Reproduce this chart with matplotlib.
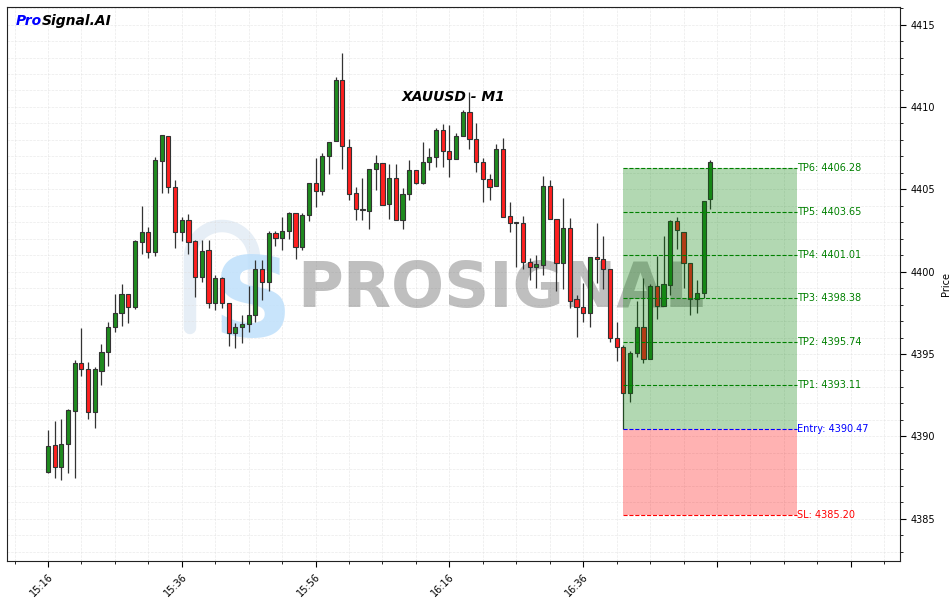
import matplotlib
matplotlib.use("Agg")
import matplotlib.pyplot as plt
from matplotlib.ticker import MultipleLocator, FixedLocator, FixedFormatter
import numpy as np

# ---- data (XAUUSD M1, starting 15:16) ----
opens = [4387.86, 4389.46, 4388.16, 4389.52, 4391.56, 4394.44, 4394.07, 4391.50, 4393.99, 4395.14,
         4396.62, 4397.47, 4398.63, 4397.87, 4401.82, 4402.39, 4401.18, 4406.72, 4408.24, 4405.12,
         4402.43, 4403.14, 4401.86, 4399.66, 4401.32, 4398.08, 4399.60, 4398.08, 4396.26, 4396.62,
         4396.81, 4397.37, 4400.15, 4399.39, 4402.33, 4402.06, 4402.47, 4403.55, 4401.48, 4403.41,
         4405.37, 4404.90, 4407.02, 4407.95, 4411.64, 4407.55, 4404.76, 4403.80, 4403.70, 4406.22,
         4406.58, 4404.09, 4405.67, 4403.14, 4404.70, 4406.17, 4405.40, 4406.64, 4406.95, 4408.60,
         4407.33, 4406.82, 4408.24, 4409.68, 4408.06, 4406.64, 4405.61, 4405.22, 4407.45, 4403.38,
         4402.94, 4402.98, 4400.57, 4400.27, 4400.41, 4405.20, 4403.18, 4400.51, 4402.64, 4398.32,
         4397.87, 4397.47, 4400.87, 4400.75, 4400.15, 4395.96, 4395.41, 4392.62, 4395.05, 4396.66,
         4394.68, 4399.13, 4397.92, 4399.19, 4403.08, 4402.43, 4400.51, 4398.34, 4398.69, 4404.41]
closes = [4389.42, 4388.16, 4389.52, 4391.60, 4394.44, 4394.07, 4391.50, 4394.07, 4395.14, 4396.62,
          4397.47, 4398.63, 4397.87, 4401.88, 4402.39, 4401.18, 4406.78, 4408.30, 4405.12, 4402.43,
          4403.14, 4401.82, 4399.66, 4401.26, 4398.08, 4399.60, 4398.08, 4396.26, 4396.62, 4396.81,
          4397.37, 4400.15, 4399.39, 4402.33, 4402.06, 4402.47, 4403.55, 4401.48, 4403.44, 4405.37,
          4404.90, 4407.02, 4407.89, 4411.64, 4407.63, 4404.70, 4403.79, 4403.76, 4406.22, 4406.58,
          4404.05, 4405.67, 4403.14, 4404.70, 4406.17, 4405.40, 4406.64, 4406.95, 4408.60, 4407.33,
          4406.82, 4408.24, 4409.68, 4408.06, 4406.64, 4405.61, 4405.16, 4407.45, 4403.34, 4402.94,
          4403.04, 4400.57, 4400.27, 4400.45, 4405.20, 4403.20, 4400.51, 4402.64, 4398.24, 4397.87,
          4397.47, 4400.87, 4400.75, 4400.15, 4395.96, 4395.41, 4392.62, 4395.05, 4396.66, 4394.68,
          4399.13, 4397.92, 4399.23, 4403.08, 4402.53, 4400.51, 4398.34, 4398.69, 4404.31, 4406.68]
highs = [4390.39, 4390.95, 4391.04, 4391.64, 4394.64, 4396.56, 4394.54, 4394.23, 4395.59, 4396.96,
         4398.63, 4399.25, 4398.63, 4401.92, 4403.99, 4402.73, 4406.98, 4408.30, 4408.24, 4405.57,
         4403.30, 4403.50, 4401.92, 4401.92, 4401.92, 4399.80, 4399.70, 4398.08, 4396.87, 4397.37,
         4399.13, 4400.71, 4400.71, 4402.49, 4402.47, 4403.30, 4403.61, 4403.55, 4403.55, 4405.37,
         4406.92, 4407.19, 4407.89, 4411.84, 4413.26, 4408.06, 4405.16, 4405.67, 4406.22, 4407.09,
         4406.58, 4406.52, 4406.52, 4405.06, 4406.78, 4406.17, 4407.89, 4407.49, 4408.71, 4408.95,
         4408.91, 4408.40, 4409.82, 4410.90, 4409.01, 4406.90, 4405.93, 4407.74, 4408.14, 4404.25,
         4403.04, 4403.40, 4400.81, 4401.01, 4405.81, 4405.57, 4403.18, 4404.49, 4403.28, 4398.57,
         4399.30, 4400.87, 4402.94, 4402.17, 4400.15, 4396.96, 4395.55, 4395.19, 4398.22, 4399.64,
         4399.23, 4400.95, 4402.17, 4403.14, 4403.34, 4402.43, 4400.51, 4399.50, 4404.31, 4406.78]
lows = [4387.76, 4387.46, 4387.35, 4387.80, 4387.46, 4393.67, 4391.04, 4390.49, 4393.12, 4394.27,
        4396.36, 4396.70, 4396.90, 4397.72, 4401.07, 4400.81, 4400.95, 4404.80, 4404.80, 4401.42,
        4401.86, 4401.06, 4398.48, 4399.39, 4397.81, 4397.67, 4397.78, 4395.49, 4395.35, 4395.69,
        4396.36, 4396.96, 4398.28, 4398.83, 4401.56, 4401.32, 4401.97, 4400.75, 4401.32, 4403.08,
        4403.95, 4404.66, 4405.91, 4407.95, 4406.24, 4404.35, 4403.14, 4403.14, 4402.57, 4404.96,
        4404.05, 4403.20, 4403.14, 4402.59, 4404.35, 4405.31, 4405.31, 4406.17, 4406.38, 4406.38,
        4405.77, 4406.82, 4408.24, 4407.45, 4406.03, 4404.21, 4404.33, 4405.22, 4403.34, 4402.39,
        4400.30, 4400.16, 4399.50, 4399.00, 4399.80, 4403.20, 4398.83, 4398.95, 4397.78, 4396.05,
        4396.96, 4396.66, 4399.30, 4398.93, 4395.71, 4394.58, 4390.47, 4392.07, 4394.84, 4394.44,
        4394.68, 4397.13, 4397.92, 4398.59, 4401.36, 4398.99, 4397.37, 4397.47, 4398.38, 4403.81]

tick_labels = ["15:16", "15:36", "15:56", "16:16", "16:36"]
symbol_title = "XAUUSD - M1"

entry_price = 4390.47
sl_price = 4385.20
tp_prices = [4393.11, 4395.74, 4398.38, 4401.01, 4403.65, 4406.28]
zone_start = 86
zone_end = 112

# ---- figure ----
fig = plt.figure(figsize=(9.53, 6.03), dpi=100)
ax = fig.add_axes([0.0073, 0.0697, 0.9371, 0.9187])

n = len(opens)
x = np.arange(n)
o = np.array(opens); c = np.array(closes); h = np.array(highs); l = np.array(lows)
up = c >= o
green = "#1f8b1f"
red = "#ff1f1f"
colors = np.where(up, green, red)

ax.vlines(x, l, h, color="#333333", linewidth=0.9, zorder=2)
bottoms = np.minimum(o, c)
heights = np.maximum(np.abs(c - o), 0.04)
ax.bar(x, heights, bottom=bottoms, width=0.62, color=colors,
       edgecolor="#333333", linewidth=0.8, zorder=3)

# zones
ax.fill_between([zone_start, zone_end], entry_price, tp_prices[-1],
                color="green", alpha=0.3, linewidth=0, zorder=4)
ax.fill_between([zone_start, zone_end], sl_price, entry_price,
                color="red", alpha=0.3, linewidth=0, zorder=4)

for i, tp in enumerate(tp_prices):
    ax.hlines(tp, zone_start, zone_end, colors="green", linestyles="--", linewidth=0.8, zorder=5)
    ax.text(zone_end, tp, f"TP{i+1}: {tp:.2f}", color="green", fontsize=7,
            va="center", ha="left", zorder=6)
ax.hlines(entry_price, zone_start, zone_end, colors="blue", linestyles="--", linewidth=0.8, zorder=5)
ax.text(zone_end, entry_price, f"Entry: {entry_price:.2f}", color="blue", fontsize=7,
        va="center", ha="left", zorder=6)
ax.hlines(sl_price, zone_start, zone_end, colors="red", linestyles="--", linewidth=0.8, zorder=5)
ax.text(zone_end, sl_price, f"SL: {sl_price:.2f}", color="red", fontsize=7,
        va="center", ha="left", zorder=6)

# watermark
ax.text(0.325, 0.49, "PROSIGNAL", transform=ax.transAxes, fontsize=45, fontweight="bold",
        color="gray", alpha=0.5, ha="left", va="center", zorder=1)
# faint logo arch (pixel geometry -> axes fraction)
def px2ax(px, py):
    return (np.asarray(px) - 7) / 893.0, (561 - np.asarray(py)) / 554.0
theta = np.linspace(np.pi, 0, 40)
arch_px = np.concatenate([[190, 190], 222 + 32 * np.cos(theta), [254]])
arch_py = np.concatenate([[328, 258], 258 - 32 * np.sin(theta), [285]])
axx, axy = px2ax(arch_px, arch_py)
ax.plot(axx, axy, transform=ax.transAxes, color="#e6eef6", linewidth=9,
        solid_capstyle="round", zorder=0.5)
ax.text(0.2755, 0.462, "S", transform=ax.transAxes, fontsize=80, fontweight="bold",
        color="#bfe0fb", alpha=0.85, ha="center", va="center", zorder=0.6)

# brand & title
ax.text(0.01, 0.975, "Pro", transform=ax.transAxes, fontsize=10, fontweight="bold",
        fontstyle="italic", color="blue", ha="left", va="center", zorder=7)
ax.text(0.0385, 0.975, "Signal.AI", transform=ax.transAxes, fontsize=10, fontweight="bold",
        fontstyle="italic", color="black", ha="left", va="center", zorder=7)
ax.text(0.5, 0.838, symbol_title, transform=ax.transAxes, fontsize=10, fontweight="bold",
        fontstyle="italic", color="black", ha="center", va="center", zorder=7)

# axes
ax.set_xlim(-6.13, 127.35)
ax.set_ylim(4382.43, 4416.07)
ax.yaxis.tick_right()
ax.yaxis.set_label_position("right")
ax.set_ylabel("Price", fontsize=7)
ax.yaxis.set_major_locator(MultipleLocator(5))
ax.yaxis.set_minor_locator(MultipleLocator(1))
ax.xaxis.set_major_locator(FixedLocator(np.arange(0, 127, 20)))
ax.xaxis.set_minor_locator(FixedLocator(np.arange(-5, 128, 5)))
ax.xaxis.set_major_formatter(FixedFormatter(tick_labels + [""] * 10))
ax.tick_params(axis="both", which="major", labelsize=7, length=4, direction="out")
ax.tick_params(axis="both", which="minor", length=2.5, direction="out")
plt.setp(ax.get_xticklabels(), rotation=45, ha="right", rotation_mode="anchor")
ax.grid(True, which="both", color="#dddddd", linestyle="--", linewidth=0.5, alpha=0.6)
ax.set_axisbelow(True)
for s in ax.spines.values():
    s.set_color("#222222")
    s.set_linewidth(0.8)

fig.savefig("out.png", dpi=100)
